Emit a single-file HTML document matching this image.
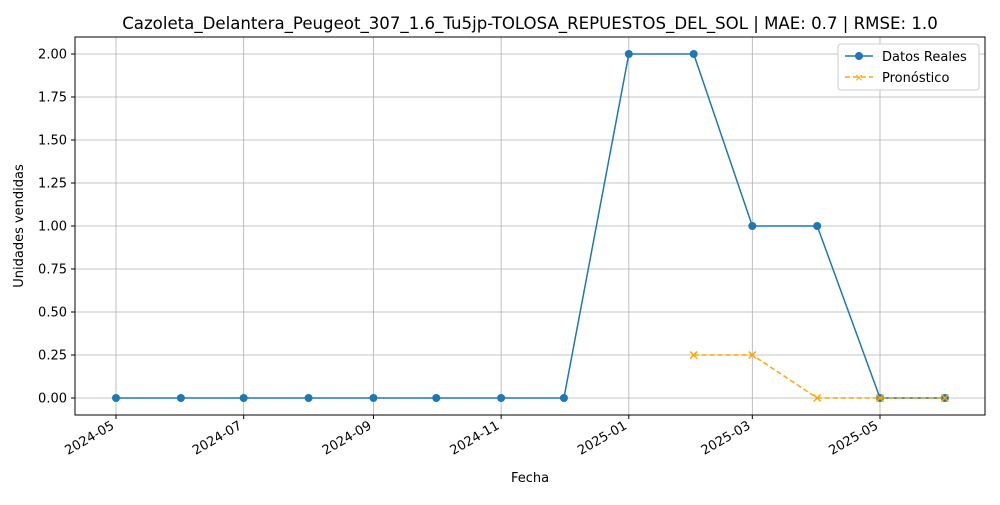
<!DOCTYPE html>
<html><head><meta charset="utf-8"><style>
body{margin:0;background:#fff;font-family:"Liberation Sans","DejaVu Sans",sans-serif;}
svg text{font-family:"DejaVu Sans","Liberation Sans",sans-serif;}
</style></head><body>
<svg id="c" width="1000" height="500" xmlns="http://www.w3.org/2000/svg">
<rect width="1000" height="500" fill="#fff"/>
<text x="530" y="29" font-size="16.6" text-anchor="middle">Cazoleta_Delantera_Peugeot_307_1.6_Tu5jp-TOLOSA_REPUESTOS_DEL_SOL | MAE: 0.7 | RMSE: 1.0</text>
<g id="grid"></g>
<g id="axes"></g>
<g id="marks"></g>
<rect x="75" y="37" width="910" height="378" fill="none" stroke="#000" stroke-width="1"/>
<text x="530" y="482" font-size="13" text-anchor="middle">Fecha</text>
<text transform="translate(23,226) rotate(-90)" font-size="13" text-anchor="middle">Unidades vendidas</text>
<g>
<rect x="838" y="44" width="141" height="46" fill="#fff" stroke="#ccc" rx="3"/>
<g>
<line x1="845" y1="56" x2="873" y2="56" stroke="#1f77b4" stroke-width="1.5"/>
<circle cx="859" cy="56" r="4" fill="#1f77b4"/>
<text x="882" y="61" font-size="13">Datos Reales</text></g>
<g>
<line x1="845" y1="77" x2="873" y2="77" stroke="orange" stroke-width="1.5" stroke-dasharray="5,3"/>
<text x="859" y="81" font-size="11" fill="orange" text-anchor="middle">×</text>
<text x="882" y="82" font-size="13">Pronóstico</text></g>
</g>
</svg>
<script>
const realDates=["2024-05-01","2024-06-01","2024-07-01","2024-08-01","2024-09-01","2024-10-01","2024-11-01","2024-12-01","2025-01-01","2025-02-01","2025-03-01","2025-04-01","2025-05-01","2025-06-01"];
const realValues=[0,0,0,0,0,0,0,0,2,2,1,1,0,0];
const fcDates=["2025-02-01","2025-03-01","2025-04-01","2025-05-01","2025-06-01"];
const fcValues=[0.25,0.25,0,0,0];
const xTicks=["2024-05","2024-07","2024-09","2024-11","2025-01","2025-03","2025-05"];
const yTicks=[0,0.25,0.5,0.75,1.0,1.25,1.5,1.75,2.0];
const NS="http://www.w3.org/2000/svg";
const t0=Date.parse("2024-05-01"),t1=Date.parse("2025-05-01");
function X(d){return 116+(Date.parse(d)-t0)/(t1-t0)*764;}
function Y(v){return 398-v*172;}
function mk(tag,attrs,parent){const e=document.createElementNS(NS,tag);for(const k in attrs)e.setAttribute(k,attrs[k]);document.getElementById(parent).appendChild(e);return e;}
yTicks.forEach(v=>{
 const g=mk("line",{x1:75,x2:985,y1:Y(v),y2:Y(v),stroke:"#b0b0b0","stroke-width":0.8},"grid");
 
 
 mk("line",{x1:71,x2:75,y1:Y(v),y2:Y(v),stroke:"#000"},"axes");
 const t=mk("text",{x:67,y:Y(v)+4.5,"font-size":13,"text-anchor":"end"},"axes");
 t.textContent=v.toFixed(2);
 
 
});
xTicks.forEach(s=>{
 const x=X(s+"-01");
 const g=mk("line",{x1:x,x2:x,y1:37,y2:415,stroke:"#b0b0b0","stroke-width":0.8},"grid");
 
 
 mk("line",{x1:x,x2:x,y1:415,y2:419,stroke:"#000"},"axes");
 const t=mk("text",{transform:`translate(${x-1},${428}) rotate(-30)`,"font-size":13,"text-anchor":"end"},"axes");
 t.textContent=s;
 
 
});
const rl=mk("polyline",{points:realDates.map((d,i)=>X(d)+","+Y(realValues[i])).join(" "),fill:"none",stroke:"#1f77b4","stroke-width":1.5},"marks");


realDates.forEach((d,i)=>{
 const c=mk("circle",{cx:X(d),cy:Y(realValues[i]),r:4,fill:"#1f77b4"},"marks");
 
 
});
const fl=mk("polyline",{points:fcDates.map((d,i)=>X(d)+","+Y(fcValues[i])).join(" "),fill:"none",stroke:"orange","stroke-width":1.5,"stroke-dasharray":"5,3"},"marks");


fcDates.forEach((d,i)=>{
 const x=X(d),y=Y(fcValues[i]);
 const p=mk("path",{d:`M${x-3.5},${y-3.5}L${x+3.5},${y+3.5}M${x-3.5},${y+3.5}L${x+3.5},${y-3.5}`,stroke:"orange","stroke-width":1.5},"marks");
 
 
});
</script>
</body></html>
